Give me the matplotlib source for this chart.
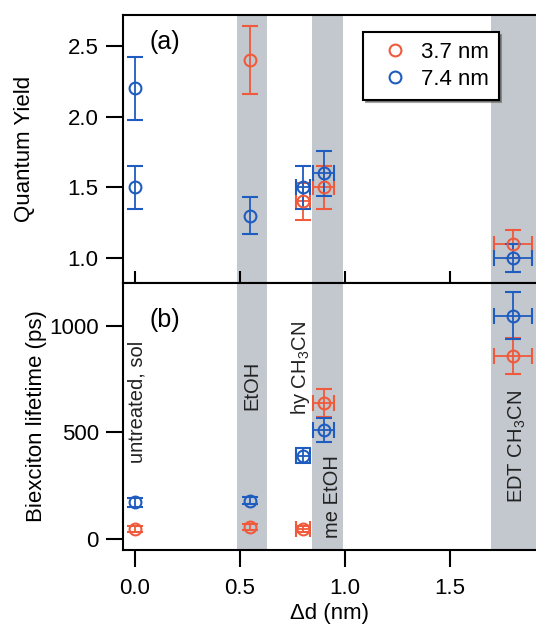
import matplotlib
matplotlib.use('Agg')
import matplotlib.pyplot as plt
from matplotlib.lines import Line2D

plt.rcParams['font.family'] = ['Liberation Sans', 'DejaVu Sans']
plt.rcParams['mathtext.default'] = 'regular'

nan = float('nan')  # no horizontal error bar for that point

# Quantum yield, 3.7 nm and 7.4 nm
x_qy_37 = [0.55, 0.8, 0.9, 1.8]
qy_37 = [2.4, 1.4, 1.5, 1.1]
qy_37_err = [0.24, 0.13, 0.15, 0.1]
qy_37_xerr = [nan, 0.035, 0.05, 0.09]

x_qy_74 = [0, 0, 0.55, 0.8, 0.9, 1.8]
qy_74 = [2.2, 1.5, 1.3, 1.5, 1.6, 1.0]
qy_74_err = [0.22, 0.15, 0.13, 0.15, 0.16, 0.1]
qy_74_xerr = [nan, nan, nan, 0.035, 0.05, 0.09]

# Biexciton lifetime (ps)
x_bx_37 = [0, 0.55, 0.8, 0.9, 1.8]
bx_37 = [47, 55, 48, 637, 861]
bx_37_err = [15, 15, 15, 65, 85]
bx_37_xerr = [nan, nan, 0.035, 0.05, 0.09]

x_bx_74 = [0, 0.55, 0.8, 0.9, 1.8]
bx_74 = [172, 180, 391, 512, 1048]
bx_74_err = [20, 15, 35, 55, 110]
bx_74_xerr = [nan, nan, 0.035, 0.05, 0.09]

# shaded treatment regions
bands = [(0.484, 0.627), (0.844, 0.989), (1.694, 2.1)]

# treatment labels: text, x, bottom y
treat_text = ['untreated, sol', 'EtOH', 'hy CH$_3$CN', 'me EtOH', 'EDT CH$_3$CN']
treat_x = [0.01, 0.556, 0.786, 0.943, 1.82]
treat_y = [357, 606, 582, 5, 169]

c37 = '#f05a3c'
c74 = '#1f5cbf'
band_col = '#c3c8ce'

fig = plt.figure(figsize=(5.36, 6.30), dpi=100)
ax1 = fig.add_axes([0.2295, 0.5508, 0.7705, 0.4254])
ax2 = fig.add_axes([0.2295, 0.127, 0.7705, 0.4238])

fs = 16
for ax in (ax1, ax2):
    for a, b in bands:
        ax.axvspan(a, b, color=band_col, lw=0, zorder=0)
    ax.set_xlim(-0.057, 1.91)
    ax.spines['right'].set_visible(False)
    for s in ax.spines.values():
        s.set_linewidth(1.5)
    ax.tick_params(axis='y', direction='out', length=12.5, width=1.5, labelsize=fs, pad=5)
    ax.set_xticks([0, 0.5, 1.0, 1.5])

ekw = dict(fmt='o', ms=8.5, mfc='none', mew=1.5, elinewidth=1.3, capsize=6, capthick=1.3, zorder=3)

ax1.errorbar(x_qy_37, qy_37, yerr=qy_37_err, xerr=qy_37_xerr, color=c37, **ekw)
ax1.errorbar(x_qy_74, qy_74, yerr=qy_74_err, xerr=qy_74_xerr, color=c74, **ekw)
ax1.set_ylim(0.823, 2.72)
ax1.set_yticks([1.0, 1.5, 2.0, 2.5])
ax1.set_yticklabels(['1.0', '1.5', '2.0', '2.5'])
ax1.tick_params(axis='x', direction='inout', length=18, width=1.5, labelbottom=False)
ax1.set_ylabel('Quantum Yield', fontsize=fs)
ax1.yaxis.set_label_coords(-0.213, 0.5)
ax1.text(0.063, 0.944, '(a)', transform=ax1.transAxes, fontsize=18, va='top', ha='left')

handles = [Line2D([], [], ls='none', marker='o', ms=8.5, mfc='none', mew=1.5, color=c37),
           Line2D([], [], ls='none', marker='o', ms=8.5, mfc='none', mew=1.5, color=c74)]
leg = ax1.legend(handles, ['3.7 nm', '7.4 nm'], loc='upper left',
                 bbox_to_anchor=(363 / 536, 1 - 32 / 630), bbox_transform=fig.transFigure,
                 fontsize=16, frameon=True, fancybox=False, shadow=True, handletextpad=0.15,
                 borderpad=0.45, labelspacing=0.25, handlelength=2.0, borderaxespad=0)
leg.get_frame().set_edgecolor('black')
leg.get_frame().set_linewidth(1.5)

ax2.errorbar(x_bx_37, bx_37, yerr=bx_37_err, xerr=bx_37_xerr, color=c37, **ekw)
ax2.errorbar(x_bx_74, bx_74, yerr=bx_74_err, xerr=bx_74_xerr, color=c74, **ekw)
ax2.set_ylim(-52, 1202)
ax2.set_yticks([0, 500, 1000])
ax2.tick_params(axis='x', direction='out', length=12, width=1.5, labelsize=fs, pad=8)
ax2.set_xticklabels(['0.0', '0.5', '1.0', '1.5'])
ax2.set_ylabel('Biexciton lifetime (ps)', fontsize=fs)
ax2.yaxis.set_label_coords(-0.184, 0.5)
ax2.set_xlabel('\u0394d (nm)', fontsize=fs, labelpad=3)
ax2.text(0.063, 0.906, '(b)', transform=ax2.transAxes, fontsize=18, va='top', ha='left')

for t, x, y in zip(treat_text, treat_x, treat_y):
    ax2.text(x, y, t, rotation=90, ha='center', va='bottom', fontsize=14.5, color='#222222', zorder=4)

fig.savefig('out.png', dpi=100)
